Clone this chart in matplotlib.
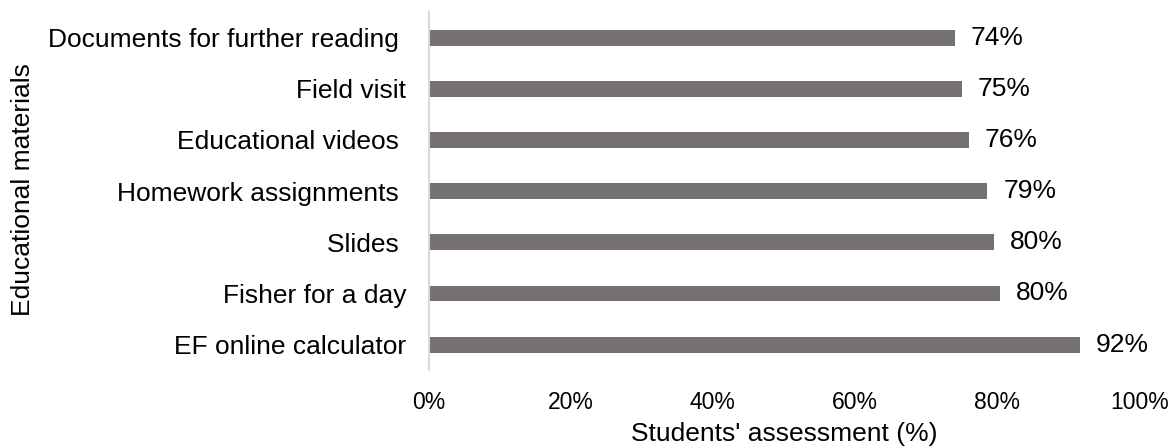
import matplotlib
matplotlib.use("Agg")
import matplotlib.pyplot as plt

# Data (top to bottom as in the chart)
materials = [
    "Documents for further reading ",
    "Field visit",
    "Educational videos ",
    "Homework assignments ",
    "Slides ",
    "Fisher for a day",
    "EF online calculator",
]
assessment = [74.0, 75.0, 76.0, 78.6, 79.6, 80.4, 91.6]
x_ticks = [0, 20, 40, 60, 80, 100]

BAR_COLOR = "#767171"
AXIS_COLOR = "#d9d9d9"

plt.rcParams["font.family"] = ["Liberation Sans", "DejaVu Sans"]

fig = plt.figure(figsize=(11.71, 4.46), dpi=100)
ax = fig.add_axes([0.366, 0.170, 0.607, 0.803])

ypos = list(range(len(materials)))
bars = ax.barh(ypos, assessment, height=0.31, color=BAR_COLOR)

ax.set_ylim(len(materials) - 0.5, -0.5)
ax.set_xlim(0, 100)
ax.set_yticks(ypos)
ax.set_yticklabels(materials, fontsize=19)
ax.set_xticks(x_ticks)
ax.set_xticklabels([f"{t}%" for t in x_ticks], fontsize=16.5)
ax.tick_params(axis="y", length=0, pad=16)
ax.tick_params(axis="x", length=0, pad=15)

for side in ["top", "right", "bottom"]:
    ax.spines[side].set_visible(False)
ax.spines["left"].set_color(AXIS_COLOR)
ax.spines["left"].set_linewidth(1.5)

# data labels
for bar, val in zip(bars, assessment):
    ax.annotate(
        f"{val:.0f}%",
        (bar.get_width(), bar.get_y() + bar.get_height() / 2),
        textcoords="offset points",
        xytext=(11.5, 0),
        ha="left",
        va="center",
        fontsize=19,
    )

ax.set_xlabel("Students' assessment (%)", fontsize=19, labelpad=6)
fig.text(23 / 1171, 1 - 190 / 446, "Educational materials", rotation=90,
         ha="center", va="center", fontsize=19)

fig.savefig("out.png", dpi=100)
